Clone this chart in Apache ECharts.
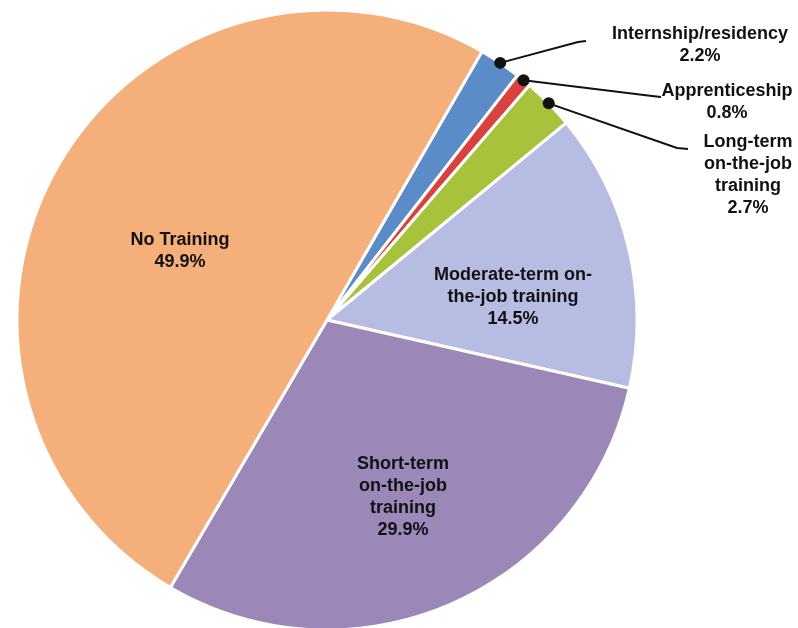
<!DOCTYPE html>
<html>
<head>
<meta charset="utf-8">
<script src="https://cdn.jsdelivr.net/npm/echarts@6/dist/echarts.min.js"></script>
<style>
  html, body { margin: 0; padding: 0; background: #fff; }
  #chart { width: 798px; height: 628px; }
</style>
</head>
<body>
<div id="chart"></div>
<script>
// Share of jobs by typical on-the-job training requirement (%)
const categories = [
  'Internship/residency',
  'Apprenticeship',
  'Long-term on-the-job training',
  'Moderate-term on-the-job training',
  'Short-term on-the-job training',
  'No Training'
];
const shares = [2.2, 0.8, 2.7, 14.5, 29.9, 49.9];
// Wrapped label text for each slice
const labelNames = [
  'Internship/residency',
  'Apprenticeship',
  'Long-term\non-the-job\ntraining',
  'Moderate-term on-\nthe-job training',
  'Short-term\non-the-job\ntraining',
  'No Training'
];
const colors = ['#5b8cc8', '#d8413e', '#a7c23b', '#b7bde2', '#9b87b8', '#f4af7a'];

// Pie geometry (pixels)
const CX = 327, CY = 320, R = 310, START = 60;
// Label block centres and leader-line bends
const labelPos = [[700, 45], [727, 102], [748, 175], [513, 297], [403, 497], [180, 251]];
const leaderBends = [
  [[578, 42], [586, 41]],
  [[652, 96], [661, 97]],
  [[677, 148], [688, 149]]
];
const calloutCount = 3;

const total = shares.reduce((a, b) => a + b, 0);
// Point on the outer rim at the middle angle of slice i
function rimPoint(i) {
  let before = 0;
  for (let k = 0; k < i; k++) before += shares[k];
  const mid = (START - (before + shares[i] / 2) / total * 360) * Math.PI / 180;
  return [CX + R * Math.cos(mid), CY - R * Math.sin(mid)];
}

const data = categories.map((name, i) => ({
  name: name,
  value: shares[i],
  itemStyle: { color: colors[i] },
  label: { position: i < calloutCount ? 'outside' : 'inside' },
  labelLine: { show: i < calloutCount }
}));

const dots = [];
for (let i = 0; i < calloutCount; i++) {
  const p = rimPoint(i);
  dots.push({
    type: 'circle',
    shape: { cx: p[0], cy: p[1], r: 6 },
    style: { fill: '#111' },
    z: 100
  });
}

const chart = echarts.init(document.getElementById('chart'), null, { renderer: 'canvas' });
chart.setOption({
  animation: false,
  backgroundColor: '#fff',
  graphic: dots,
  series: [{
    type: 'pie',
    center: [CX, CY],
    radius: [0, R],
    startAngle: START,
    clockwise: true,
    avoidLabelOverlap: false,
    minShowLabelAngle: 0,
    data: data,
    itemStyle: { borderColor: '#fff', borderWidth: 3 },
    label: {
      show: true,
      formatter: p => labelNames[p.dataIndex] + '\n' + p.value.toFixed(1) + '%',
      fontFamily: '"Liberation Sans", Arial, sans-serif',
      fontWeight: 'bold',
      fontSize: 18,
      lineHeight: 22,
      color: '#111',
      align: 'center'
    },
    labelLine: {
      show: true,
      lineStyle: { color: '#111', width: 2 }
    },
    labelLayout: function (p) {
      const i = p.dataIndex;
      const out = {
        x: labelPos[i][0],
        y: labelPos[i][1],
        align: 'center',
        verticalAlign: 'middle'
      };
      if (i < calloutCount) {
        out.labelLinePoints = [rimPoint(i)].concat(leaderBends[i]);
      }
      return out;
    }
  }]
});
</script>
</body>
</html>
